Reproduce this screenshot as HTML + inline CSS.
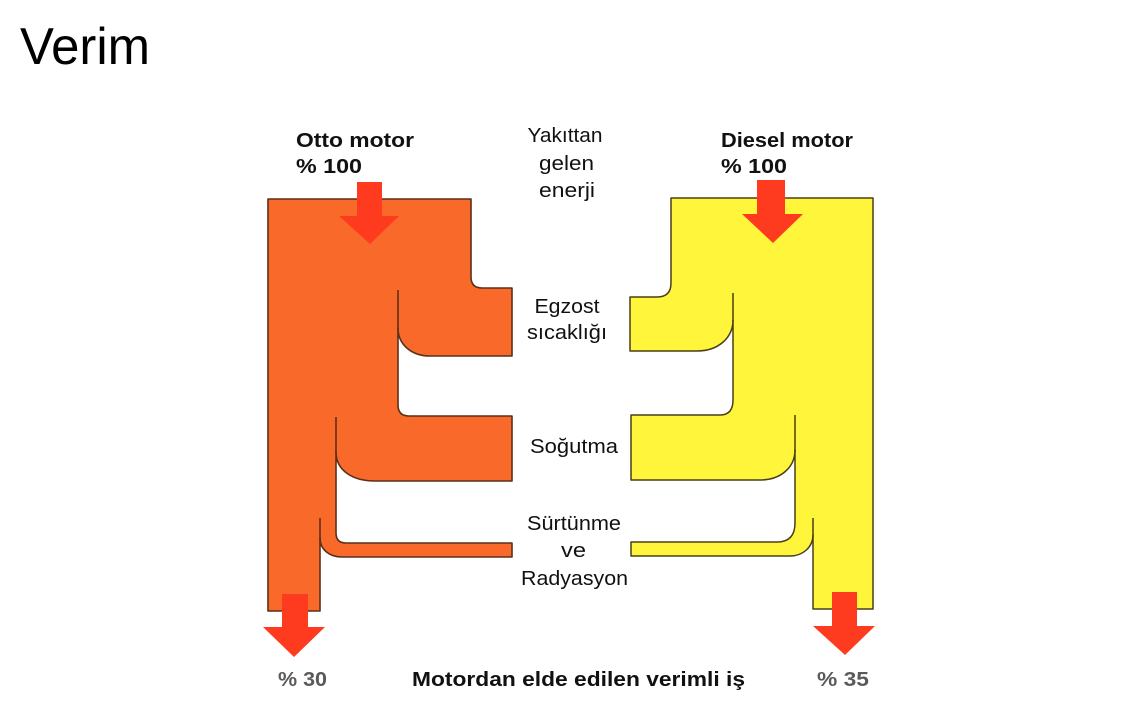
<!DOCTYPE html>
<html>
<head>
<meta charset="utf-8">
<style>
  html, body { margin:0; padding:0; background:#ffffff; }
  body { width:1133px; height:709px; overflow:hidden; }
  svg { display:block; }
</style>
</head>
<body>
<svg width="1133" height="709" viewBox="0 0 1133 709" xmlns="http://www.w3.org/2000/svg">
  <rect width="1133" height="709" fill="#ffffff"/>

  <!-- Title -->
  <text x="20" y="64" font-family="Liberation Sans, sans-serif" font-size="52" fill="#000" textLength="130" lengthAdjust="spacingAndGlyphs">Verim</text>

  <!-- Orange (Otto) shape -->
  <path d="M268,199 L471,199 L471,277 Q471,288 482,288 L512,288 L512,356 L430,356
           C412,356 398,345 398,328 L398,405 Q398,416 409,416 L512,416 L512,481 L375,481
           C352,481 336,470 336,452 L336,533 Q336,543 346,543 L512,543 L512,557 L342,557
           C330,557 320,550 320,538 L320,611 L268,611 Z"
        fill="#F96A2A" stroke="#5a3018" stroke-width="1.6" stroke-linejoin="round"/>
  <!-- separator lines -->
  <line x1="398" y1="290" x2="398" y2="330" stroke="#5a3018" stroke-width="1.6"/>
  <line x1="336" y1="417" x2="336" y2="454" stroke="#5a3018" stroke-width="1.6"/>
  <line x1="320" y1="518" x2="320" y2="540" stroke="#5a3018" stroke-width="1.6"/>

  <!-- Yellow (Diesel) shape -->
  <path d="M671,198 L873,198 L873,609 L813,609 L813,535
           C813,547 803,556 790,556 L631,556 L631,542 L777,542 Q795,542 795,523 L795,450
           C795,468 780,480 760,480 L631,480 L631,415 L720,415 Q733,415 733,400 L733,320
           C733,338 718,351 697,351 L630,351 L630,297 L657,297 Q671,297 671,283 Z"
        fill="#FFF53A" stroke="#4a3f18" stroke-width="1.5" stroke-linejoin="round"/>
  <line x1="733" y1="293" x2="733" y2="322" stroke="#4a3f18" stroke-width="1.5"/>
  <line x1="795" y1="415" x2="795" y2="452" stroke="#4a3f18" stroke-width="1.5"/>
  <line x1="813" y1="518" x2="813" y2="537" stroke="#4a3f18" stroke-width="1.5"/>

  <!-- Arrows -->
  <polygon points="357,182 382,182 382,216 399,216 370,244 339,216 357,216" fill="#FF3B1F"/>
  <polygon points="757,180 785,180 785,214 803,214 773,243 742,214 757,214" fill="#FF3B1F"/>
  <polygon points="282,594 308,594 308,627 325,627 294,657 263,627 282,627" fill="#FF3B1F"/>
  <polygon points="832,592 857,592 857,626 875,626 845,655 813,626 832,626" fill="#FF3B1F"/>

  <!-- Headers -->
  <g font-family="Liberation Sans, sans-serif" font-weight="bold" font-size="20" fill="#111">
    <text x="296" y="147" textLength="118" lengthAdjust="spacingAndGlyphs">Otto motor</text>
    <text x="296" y="173" textLength="66" lengthAdjust="spacingAndGlyphs">% 100</text>
    <text x="721" y="147" textLength="132" lengthAdjust="spacingAndGlyphs">Diesel motor</text>
    <text x="721" y="173" textLength="66" lengthAdjust="spacingAndGlyphs">% 100</text>
  </g>

  <!-- Center labels -->
  <g font-family="Liberation Sans, sans-serif" font-size="20" fill="#111" text-anchor="middle">
    <text x="565" y="142" textLength="75" lengthAdjust="spacingAndGlyphs">Yakıttan</text>
    <text x="566.5" y="170" textLength="55" lengthAdjust="spacingAndGlyphs">gelen</text>
    <text x="567" y="197" textLength="56" lengthAdjust="spacingAndGlyphs">enerji</text>
    <text x="567" y="313" textLength="65" lengthAdjust="spacingAndGlyphs">Egzost</text>
    <text x="567" y="339" textLength="80" lengthAdjust="spacingAndGlyphs">sıcaklığı</text>
    <text x="574" y="453" textLength="88" lengthAdjust="spacingAndGlyphs">Soğutma</text>
    <text x="574" y="530" textLength="94" lengthAdjust="spacingAndGlyphs">Sürtünme</text>
    <text x="573.5" y="557" textLength="25" lengthAdjust="spacingAndGlyphs">ve</text>
    <text x="574.5" y="585" textLength="107" lengthAdjust="spacingAndGlyphs">Radyasyon</text>
  </g>

  <!-- Bottom labels -->
  <g font-family="Liberation Sans, sans-serif" font-weight="bold" font-size="20">
    <text x="278" y="686" fill="#5a5a5a" textLength="49" lengthAdjust="spacingAndGlyphs">% 30</text>
    <text x="412" y="686" fill="#111" textLength="333" lengthAdjust="spacingAndGlyphs">Motordan elde edilen verimli iş</text>
    <text x="817" y="686" fill="#5a5a5a" textLength="52" lengthAdjust="spacingAndGlyphs">% 35</text>
  </g>
</svg>
</body>
</html>
